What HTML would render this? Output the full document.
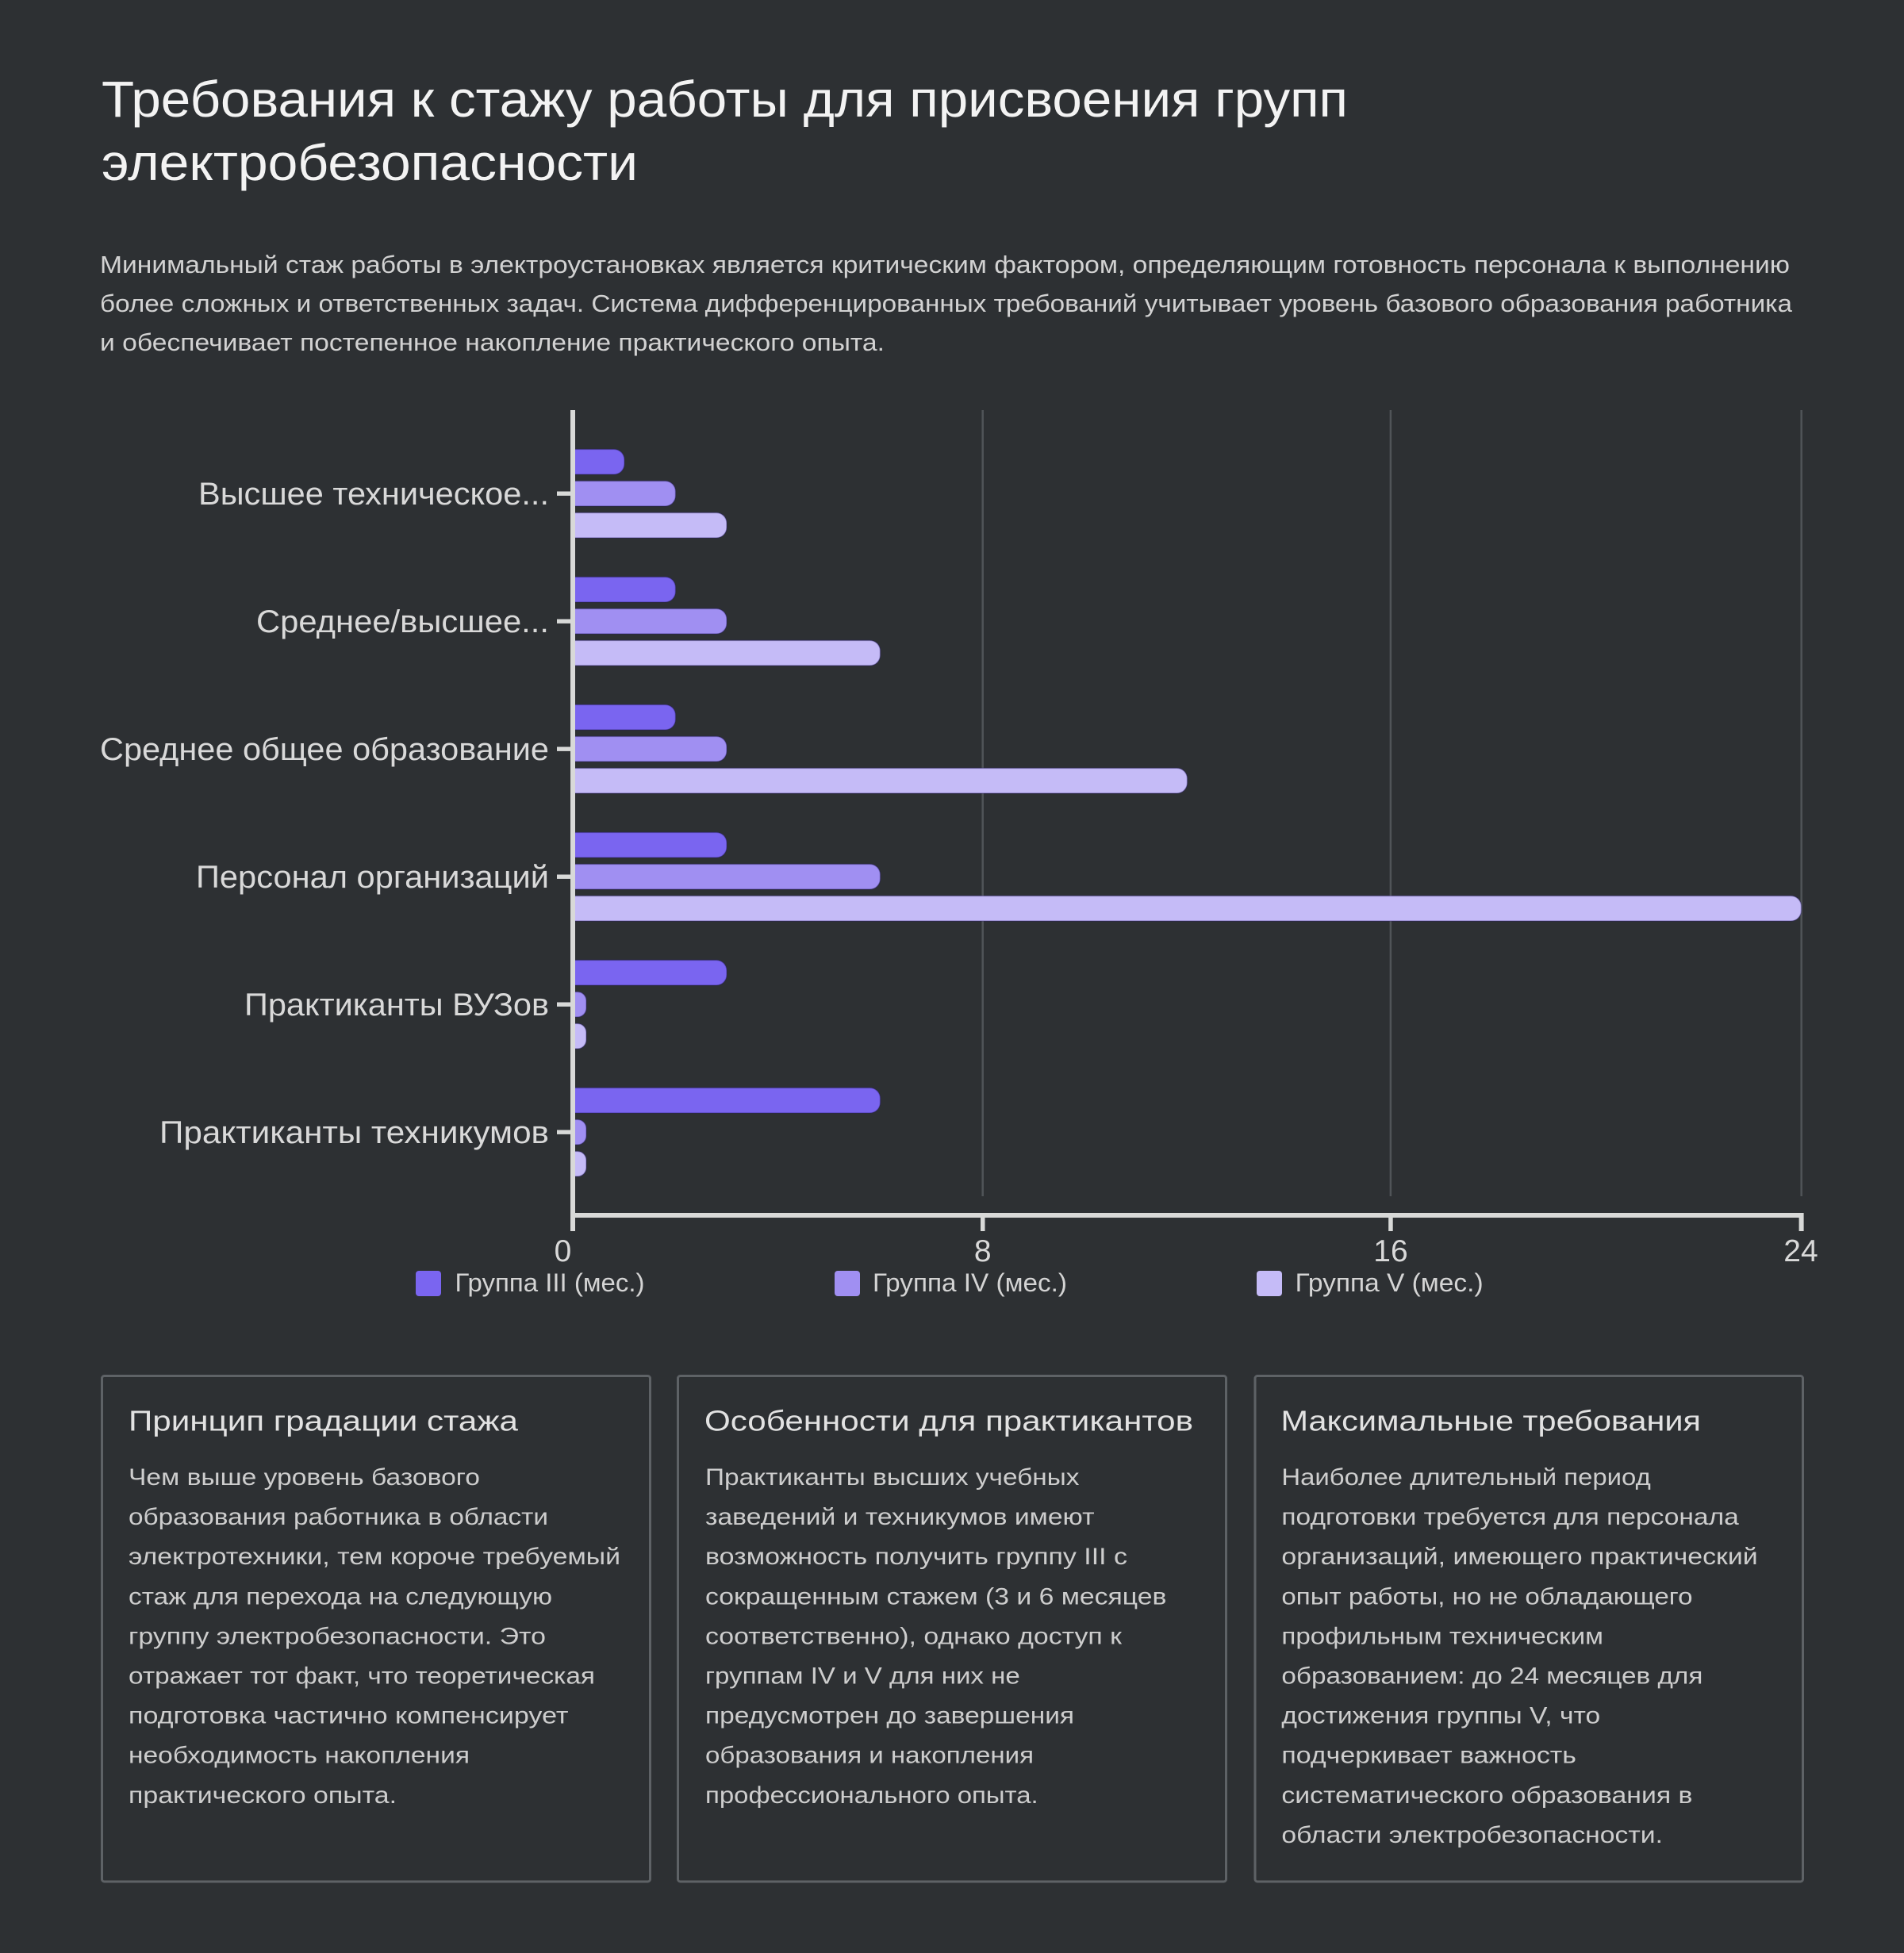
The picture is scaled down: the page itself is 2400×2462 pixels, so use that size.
<!DOCTYPE html>
<html>
<head>
<meta charset="utf-8">
<style>
  html, body { margin: 0; padding: 0; background: #2d3033; }
  body { width: 2400px; height: 2462px; overflow: hidden; }
  svg { display: block; }
  text { font-family: "Liberation Sans", "DejaVu Sans", sans-serif; }
</style>
</head>
<body>
<svg width="2400" height="2462" viewBox="0 0 2400 2462" xmlns="http://www.w3.org/2000/svg">
  <defs>
    <clipPath id="plot">
      <rect x="722" y="500" width="1700" height="1050"/>
    </clipPath>
  </defs>
  <rect x="0" y="0" width="2400" height="2462" fill="#2d3033"/>

  <!-- Title -->
  <g fill="#f3f3f3" font-size="64">
    <text x="128" y="147" textLength="1571" lengthAdjust="spacingAndGlyphs">Требования к стажу работы для присвоения групп</text>
    <text x="128" y="227" textLength="676" lengthAdjust="spacingAndGlyphs">электробезопасности</text>
  </g>

  <!-- Intro paragraph -->
  <g fill="#d2d2d2" font-size="31">
    <text x="126" y="344" textLength="2130" lengthAdjust="spacingAndGlyphs">Минимальный стаж работы в электроустановках является критическим фактором, определяющим готовность персонала к выполнению</text>
    <text x="126" y="393" textLength="2133" lengthAdjust="spacingAndGlyphs">более сложных и ответственных задач. Система дифференцированных требований учитывает уровень базового образования работника</text>
    <text x="126" y="442" textLength="989" lengthAdjust="spacingAndGlyphs">и обеспечивает постепенное накопление практического опыта.</text>
  </g>

  <!-- Gridlines -->
  <g stroke="#505458" stroke-width="2.5">
    <line x1="1238.7" y1="517" x2="1238.7" y2="1508"/>
    <line x1="1752.9" y1="517" x2="1752.9" y2="1508"/>
    <line x1="2270.7" y1="517" x2="2270.7" y2="1508"/>
  </g>

  <!-- Bars -->
  <g clip-path="url(#plot)" stroke="rgba(40,30,110,0.35)" stroke-width="1.5">
    <rect x="709" y="566.35" width="78" height="31.7" rx="13" fill="#7a65f0"/>
    <rect x="709" y="606.35" width="142.5" height="31.7" rx="13" fill="#a08ff2"/>
    <rect x="709" y="646.35" width="207" height="31.7" rx="13" fill="#c5bbf7"/>
    <rect x="709" y="727.35" width="142.5" height="31.7" rx="13" fill="#7a65f0"/>
    <rect x="709" y="767.35" width="207" height="31.7" rx="13" fill="#a08ff2"/>
    <rect x="709" y="807.35" width="400.5" height="31.7" rx="13" fill="#c5bbf7"/>
    <rect x="709" y="888.35" width="142.5" height="31.7" rx="13" fill="#7a65f0"/>
    <rect x="709" y="928.35" width="207" height="31.7" rx="13" fill="#a08ff2"/>
    <rect x="709" y="968.35" width="787.5" height="31.7" rx="13" fill="#c5bbf7"/>
    <rect x="709" y="1049.35" width="207" height="31.7" rx="13" fill="#7a65f0"/>
    <rect x="709" y="1089.35" width="400.5" height="31.7" rx="13" fill="#a08ff2"/>
    <rect x="709" y="1129.35" width="1561.5" height="31.7" rx="13" fill="#c5bbf7"/>
    <rect x="709" y="1210.35" width="207" height="31.7" rx="13" fill="#7a65f0"/>
    <rect x="709" y="1250.35" width="30" height="31.7" rx="11" fill="#a08ff2"/>
    <rect x="709" y="1290.35" width="30" height="31.7" rx="11" fill="#c5bbf7"/>
    <rect x="709" y="1371.35" width="400.5" height="31.7" rx="13" fill="#7a65f0"/>
    <rect x="709" y="1411.35" width="30" height="31.7" rx="11" fill="#a08ff2"/>
    <rect x="709" y="1451.35" width="30" height="31.7" rx="11" fill="#c5bbf7"/>
  </g>

  <!-- Axes -->
  <g fill="#d8d9d8">
    <rect x="719" y="517" width="6" height="1035"/>
    <rect x="719" y="1529" width="1554.6" height="6"/>
    <rect x="1236" y="1535" width="5.5" height="17"/>
    <rect x="1750.2" y="1535" width="5.5" height="17"/>
    <rect x="2267.6" y="1535" width="6" height="17"/>
    <rect x="702" y="619.5" width="17" height="5.4"/>
    <rect x="702" y="780.5" width="17" height="5.4"/>
    <rect x="702" y="941.5" width="17" height="5.4"/>
    <rect x="702" y="1102.5" width="17" height="5.4"/>
    <rect x="702" y="1263.5" width="17" height="5.4"/>
    <rect x="702" y="1424.5" width="17" height="5.4"/>
  </g>

  <!-- Category labels -->
  <g fill="#d9d9d9" font-size="40">
    <text x="250" y="636" textLength="442" lengthAdjust="spacingAndGlyphs">Высшее техническое...</text>
    <text x="323" y="797" textLength="369" lengthAdjust="spacingAndGlyphs">Среднее/высшее...</text>
    <text x="126" y="958" textLength="566" lengthAdjust="spacingAndGlyphs">Среднее общее образование</text>
    <text x="247" y="1119" textLength="445" lengthAdjust="spacingAndGlyphs">Персонал организаций</text>
    <text x="308" y="1280" textLength="384" lengthAdjust="spacingAndGlyphs">Практиканты ВУЗов</text>
    <text x="201" y="1441" textLength="491" lengthAdjust="spacingAndGlyphs">Практиканты техникумов</text>
  </g>

  <!-- X tick labels -->
  <g fill="#d9d9d9" font-size="39" text-anchor="middle">
    <text x="709.5" y="1590">0</text>
    <text x="1238.7" y="1590">8</text>
    <text x="1753" y="1590">16</text>
    <text x="2270" y="1590">24</text>
  </g>

  <!-- Legend -->
  <rect x="524" y="1602" width="32" height="32" rx="4" fill="#7a65f0"/>
  <rect x="1052" y="1602" width="32" height="32" rx="4" fill="#a08ff2"/>
  <rect x="1584" y="1602" width="32" height="32" rx="4" fill="#c5bbf7"/>
  <g fill="#d4d4d4" font-size="32">
    <text x="573.5" y="1628" textLength="239" lengthAdjust="spacingAndGlyphs">Группа III (мес.)</text>
    <text x="1100" y="1628" textLength="245" lengthAdjust="spacingAndGlyphs">Группа IV (мес.)</text>
    <text x="1632.6" y="1628" textLength="237" lengthAdjust="spacingAndGlyphs">Группа V (мес.)</text>
  </g>

  <!-- Cards -->
  <g fill="none" stroke="#5e6266" stroke-width="3">
    <rect x="128.5" y="1734.5" width="691" height="637.5" rx="3"/>
    <rect x="854.5" y="1734.5" width="691" height="637.5" rx="3"/>
    <rect x="1582" y="1734.5" width="690.5" height="637.5" rx="3"/>
  </g>

  <!-- Card headings -->
  <g fill="#e2e2e2" font-size="36">
    <text x="162" y="1803.5" textLength="491" lengthAdjust="spacingAndGlyphs">Принцип градации стажа</text>
    <text x="888" y="1803.5" textLength="616" lengthAdjust="spacingAndGlyphs">Особенности для практикантов</text>
    <text x="1614.5" y="1803.5" textLength="529.5" lengthAdjust="spacingAndGlyphs">Максимальные требования</text>
  </g>

  <!-- Card 1 body -->
  <g fill="#cdcdcd" font-size="30">
    <text x="162" y="1872" textLength="443" lengthAdjust="spacingAndGlyphs">Чем выше уровень базового</text>
    <text x="162" y="1922.1" textLength="529" lengthAdjust="spacingAndGlyphs">образования работника в области</text>
    <text x="162" y="1972.2" textLength="620" lengthAdjust="spacingAndGlyphs">электротехники, тем короче требуемый</text>
    <text x="162" y="2022.3" textLength="534" lengthAdjust="spacingAndGlyphs">стаж для перехода на следующую</text>
    <text x="162" y="2072.4" textLength="526" lengthAdjust="spacingAndGlyphs">группу электробезопасности. Это</text>
    <text x="162" y="2122.5" textLength="588" lengthAdjust="spacingAndGlyphs">отражает тот факт, что теоретическая</text>
    <text x="162" y="2172.6" textLength="554.5" lengthAdjust="spacingAndGlyphs">подготовка частично компенсирует</text>
    <text x="162" y="2222.7" textLength="430" lengthAdjust="spacingAndGlyphs">необходимость накопления</text>
    <text x="162" y="2272.8" textLength="338" lengthAdjust="spacingAndGlyphs">практического опыта.</text>
  </g>

  <!-- Card 2 body -->
  <g fill="#cdcdcd" font-size="30">
    <text x="889" y="1872" textLength="471.4" lengthAdjust="spacingAndGlyphs">Практиканты высших учебных</text>
    <text x="889" y="1922.1" textLength="490.5" lengthAdjust="spacingAndGlyphs">заведений и техникумов имеют</text>
    <text x="889" y="1972.2" textLength="532" lengthAdjust="spacingAndGlyphs">возможность получить группу III с</text>
    <text x="889" y="2022.3" textLength="581.4" lengthAdjust="spacingAndGlyphs">сокращенным стажем (3 и 6 месяцев</text>
    <text x="889" y="2072.4" textLength="525" lengthAdjust="spacingAndGlyphs">соответственно), однако доступ к</text>
    <text x="889" y="2122.5" textLength="396.8" lengthAdjust="spacingAndGlyphs">группам IV и V для них не</text>
    <text x="889" y="2172.6" textLength="465" lengthAdjust="spacingAndGlyphs">предусмотрен до завершения</text>
    <text x="889" y="2222.7" textLength="414" lengthAdjust="spacingAndGlyphs">образования и накопления</text>
    <text x="889" y="2272.8" textLength="419.7" lengthAdjust="spacingAndGlyphs">профессионального опыта.</text>
  </g>

  <!-- Card 3 body -->
  <g fill="#cdcdcd" font-size="30">
    <text x="1615.4" y="1872" textLength="465.4" lengthAdjust="spacingAndGlyphs">Наиболее длительный период</text>
    <text x="1615.4" y="1922.1" textLength="576.4" lengthAdjust="spacingAndGlyphs">подготовки требуется для персонала</text>
    <text x="1615.4" y="1972.2" textLength="600.3" lengthAdjust="spacingAndGlyphs">организаций, имеющего практический</text>
    <text x="1615.4" y="2022.3" textLength="518.1" lengthAdjust="spacingAndGlyphs">опыт работы, но не обладающего</text>
    <text x="1615.4" y="2072.4" textLength="405.6" lengthAdjust="spacingAndGlyphs">профильным техническим</text>
    <text x="1615.4" y="2122.5" textLength="531" lengthAdjust="spacingAndGlyphs">образованием: до 24 месяцев для</text>
    <text x="1615.4" y="2172.6" textLength="401.8" lengthAdjust="spacingAndGlyphs">достижения группы V, что</text>
    <text x="1615.4" y="2222.7" textLength="371.6" lengthAdjust="spacingAndGlyphs">подчеркивает важность</text>
    <text x="1615.4" y="2272.8" textLength="518.1" lengthAdjust="spacingAndGlyphs">систематического образования в</text>
    <text x="1615.4" y="2322.9" textLength="480.6" lengthAdjust="spacingAndGlyphs">области электробезопасности.</text>
  </g>
</svg>
</body>
</html>
